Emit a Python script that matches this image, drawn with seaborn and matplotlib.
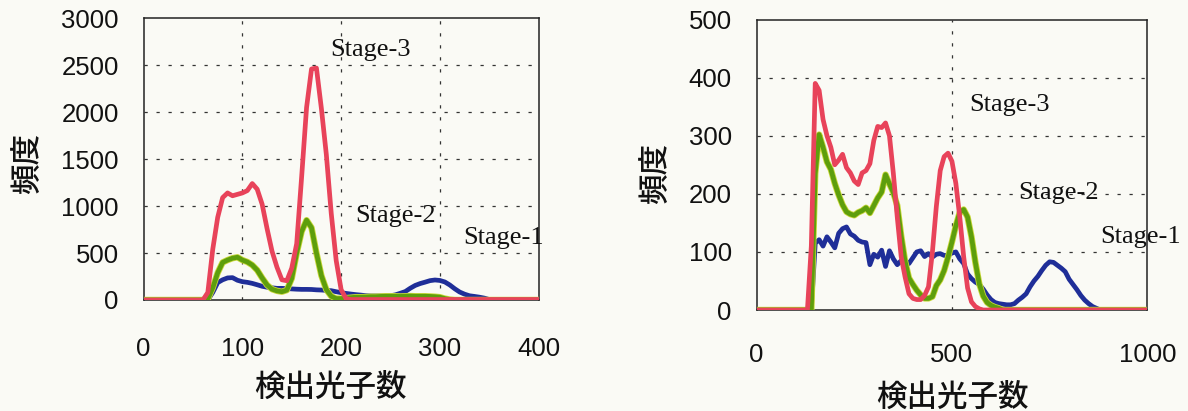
import matplotlib
matplotlib.use("Agg")
import matplotlib.pyplot as plt
import matplotlib.patheffects as pe
import seaborn as sns
import pandas as pd

# ---- data -------------------------------------------------------------
stages = ["Stage-1", "Stage-2", "Stage-3"]

# photon-count histogram, 0-400 range (bin step 5)
left_photons = list(range(0, 401, 5))
left_stage1 = [0, 0, 0, 0, 0, 0, 0, 0, 0, 0, 0, 0, 0, 0,
               80, 185, 215, 235, 238, 210, 195, 188, 177, 162, 146, 136, 130, 124,
               124, 121, 118, 115, 113, 113, 112, 108, 106, 102, 99, 88, 78, 70,
               63, 57, 52, 46, 43, 43, 43, 43, 45, 55, 72, 90, 125, 155,
               175, 190, 206, 213, 208, 192, 160, 120, 85, 62, 45, 38, 30, 20,
               5, 0, 0, 0, 0, 0, 0, 0, 0, 0, 0]
left_stage2 = [0, 0, 0, 0, 0, 0, 0, 0, 0, 0, 0, 0, 0,
               10, 130, 290, 400, 425, 445, 455, 425, 405, 372, 318, 235, 160, 115,
               97, 88, 105, 230, 500, 730, 850, 770, 500, 260, 110, 40, 15,
               15, 20, 25, 30, 30, 32, 35, 35, 38, 40, 40, 40, 38, 40, 42,
               40, 40, 40, 38, 35, 30, 15, 5,
               0, 0, 0, 0, 0, 0, 0, 0, 0, 0, 0, 0, 0, 0, 0, 0, 0, 0]
left_stage3 = [0, 0, 0, 0, 0, 0, 0, 0, 0, 0, 0, 0,
               0, 80, 540, 880, 1090, 1140, 1110, 1125, 1140, 1165, 1240, 1180,
               1020, 760, 520, 350, 215, 205, 340, 600, 1310, 2050, 2460, 2470,
               2040, 1550, 920, 420, 110, 15,
               5, 5, 5, 5, 5, 5, 5, 5, 5, 5, 5, 5, 5, 5, 5, 5, 5, 5, 5, 5,
               5, 5, 5, 5, 5, 5, 5, 5, 5, 5, 5, 5, 5, 5, 5, 5, 5, 5, 5]

# photon-count histogram, 0-1000 range (bin step 10)
right_photons = list(range(0, 1001, 10))
right_stage1 = [0, 0, 0, 0, 0, 0, 0, 0, 0, 0, 0, 0, 0, 0, 0,
                115, 121, 110, 126, 117, 107, 132, 140, 143, 131, 127, 120, 117,
                116, 78, 96, 91, 103, 75, 102, 88, 78, 85, 85, 80, 90, 100, 102,
                92, 97, 91, 96, 97, 94, 94, 98, 100, 88, 80, 62, 54, 48, 44, 36,
                26, 18, 13, 11, 10, 9, 9, 11, 17, 22, 28, 40, 50, 58, 68, 77,
                83, 82, 77, 72, 66, 53, 44, 35, 25, 17, 11, 6, 3,
                0, 0, 0, 0, 0, 0, 0, 0, 0, 0, 0, 0, 0]
right_stage2 = [0, 0, 0, 0, 0, 0, 0, 0, 0, 0, 0, 0, 0, 0, 0,
                235, 302, 280, 255, 242, 218, 198, 181, 169, 165, 163, 168, 171,
                176, 167, 180, 193, 203, 233, 217, 202, 180, 128, 84, 55, 44, 34,
                26, 20, 20, 23, 42, 52, 68, 91, 117, 145, 168, 173, 160, 126, 82,
                45, 24, 13, 8, 5, 3,
                0, 0, 0, 0, 0, 0, 0, 0, 0, 0, 0, 0, 0, 0, 0, 0, 0, 0, 0,
                0, 0, 0, 0, 0, 0, 0, 0, 0, 0, 0, 0, 0, 0, 0, 0, 0, 0, 0]
right_stage3 = [0, 0, 0, 0, 0, 0, 0, 0, 0, 0, 0, 0, 0, 0,
                110, 390, 378, 328, 300, 280, 250, 258, 268, 245, 236, 222, 216,
                236, 240, 252, 292, 316, 314, 322, 300, 235, 160, 92, 57, 28, 20,
                18, 18, 25, 40, 100, 178, 240, 264, 270, 256, 218, 160, 92, 38,
                14, 6, 2,
                0, 0, 0, 0, 0, 0, 0, 0, 0, 0, 0, 0, 0, 0, 0, 0, 0, 0, 0, 0, 0, 0,
                0, 0, 0, 0, 0, 0, 0, 0, 0, 0, 0, 0, 0, 0, 0, 0, 0, 0, 0, 0, 0]

left_yticks = [0, 500, 1000, 1500, 2000, 2500, 3000]
left_xticks = [0, 100, 200, 300, 400]
right_yticks = [0, 100, 200, 300, 400, 500]
right_xticks = [0, 500, 1000]

x_title = "検出光子数"
y_title = "頻度"

# ---- style ------------------------------------------------------------
sns.set_theme(style="white")
plt.rcParams["font.family"] = ["Liberation Sans", "Noto Sans CJK JP"]

paper = "#FAFAF5"
palette = {"Stage-1": "#1F2E98", "Stage-2": "#5E9E0C", "Stage-3": "#E8435A"}


def long_form(photons, s1, s2, s3):
    df = pd.DataFrame({"photons": photons, stages[0]: s1,
                       stages[1]: s2, stages[2]: s3})
    return df.melt(id_vars="photons", var_name="stage", value_name="freq")


fig = plt.figure(figsize=(11.88, 4.11), dpi=100, facecolor=paper)
ax_l = fig.add_axes([0.1209, 0.2701, 0.3325, 0.6854])
ax_r = fig.add_axes([0.6369, 0.2457, 0.3288, 0.7068])

panels = [
    (ax_l, long_form(left_photons, left_stage1, left_stage2, left_stage3),
     left_xticks, left_yticks, 100, 27.0,
     [("Stage-3", 230, 2662), ("Stage-2", 255, 895), ("Stage-1", 364, 660)],
     (0.472, -0.309), (-0.295, 0.486)),
    (ax_r, long_form(right_photons, right_stage1, right_stage2, right_stage3),
     right_xticks, right_yticks, 500, 23.5,
     [("Stage-3", 648, 353), ("Stage-2", 772, 201), ("Stage-1", 983, 126)],
     (0.50, -0.2995), (-0.258, 0.4716)),
]

for ax, df, xt, yt, xgrid_step, xpad, notes, xlab_pos, ylab_pos in panels:
    ax.set_facecolor(paper)
    sns.lineplot(data=df, x="photons", y="freq", hue="stage",
                 hue_order=stages, palette=palette, estimator=None,
                 linewidth=3.4, legend=False, ax=ax, zorder=3)
    # soft yellow fringe along the green trace
    ax.lines[1].set_path_effects([
        pe.Stroke(linewidth=4.6, foreground="#C9D83A"), pe.Normal()])
    for ln in ax.lines:
        ln.set_solid_joinstyle("round")
        ln.set_solid_capstyle("round")

    ax.set_xlim(xt[0], xt[-1])
    ax.set_ylim(yt[0], yt[-1])
    ax.set_xticks(xt)
    ax.set_yticks(yt)
    ax.tick_params(axis="both", length=0, labelsize=18.5, colors="#111111")
    ax.tick_params(axis="y", pad=18.0)
    ax.tick_params(axis="x", pad=xpad)

    # dashed guide lines at interior ticks only
    for v in yt[1:-1]:
        ax.axhline(v, color="#333333", lw=0.9, ls=(0, (2.6, 7.0)), zorder=1)
    for v in range(xt[0] + xgrid_step, xt[-1], xgrid_step):
        ax.axvline(v, color="#333333", lw=0.9, ls=(0, (2.6, 7.0)), zorder=1)

    for s in ax.spines.values():
        s.set_color("#222222")
        s.set_linewidth(1.1)

    for text, x, y in notes:
        ax.text(x, y, text, ha="center", va="center", fontsize=19,
                family="Liberation Serif", color="#111111")

    ax.set_xlabel(x_title, fontsize=22, family=["Noto Sans CJK JP"],
                  fontweight="medium", color="#111111")
    ax.xaxis.set_label_coords(*xlab_pos)
    ax.xaxis.label.set_va("center")
    ax.set_ylabel(y_title, fontsize=22, family=["Noto Sans CJK JP"],
                  fontweight="medium", color="#111111")
    ax.yaxis.set_label_coords(*ylab_pos)
    ax.yaxis.label.set_va("center")

fig.savefig("out.png", dpi=100, facecolor=paper)
